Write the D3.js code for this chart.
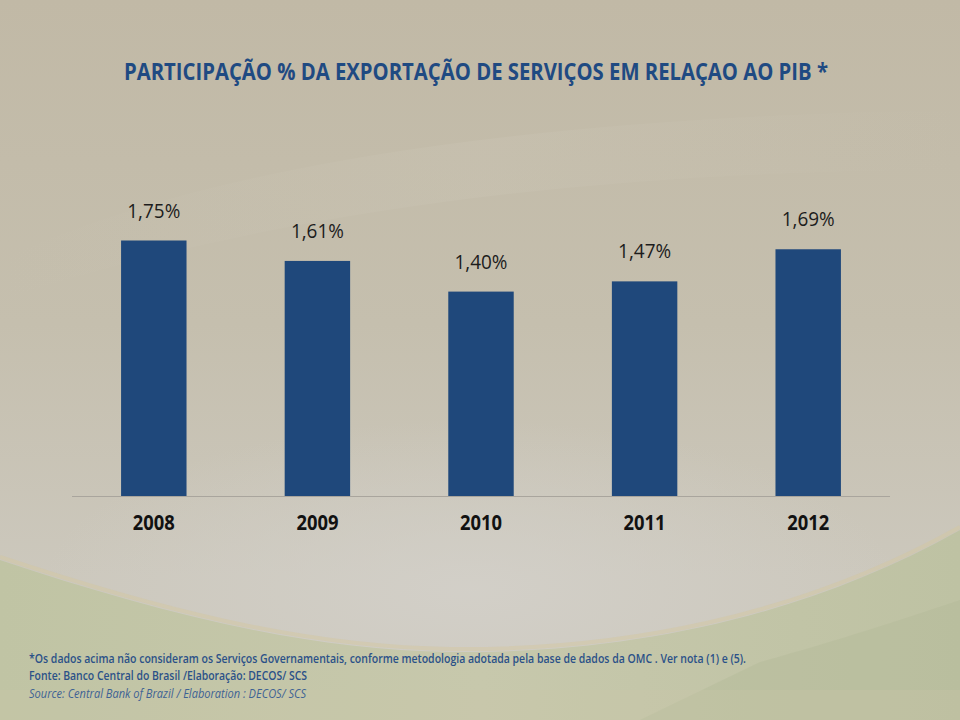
<!DOCTYPE html>
<html>
<head>
<meta charset="utf-8">
<script src="https://cdn.jsdelivr.net/npm/d3@7/dist/d3.min.js"></script>
<style>
html,body{margin:0;padding:0;background:#c4bcab;}
svg{display:block;}
</style>
</head>
<body>
<svg id="chart" width="960" height="720"></svg>
<script>
const years = ["2008", "2009", "2010", "2011", "2012"];
const values = [1.75, 1.61, 1.40, 1.47, 1.69];
const valueLabels = ["1,75%", "1,61%", "1,40%", "1,47%", "1,69%"];
const titleText = "PARTICIPAÇÃO % DA EXPORTAÇÃO DE SERVIÇOS EM RELAÇAO AO PIB *";
const notes = [
  "*Os dados acima não consideram os Serviços Governamentais, conforme metodologia adotada pela base de dados da OMC . Ver nota (1) e (5).",
  "Fonte: Banco Central do Brasil /Elaboração: DECOS/ SCS",
  "Source: Central Bank of Brazil / Elaboration : DECOS/ SCS"
];

const svg = d3.select("#chart");
const W = 960, H = 720;
const defs = svg.append("defs");
const FONT = "'Open Sans', 'Noto Sans', sans-serif";

// Background
const bg = defs.append("linearGradient").attr("id","bg").attr("x1",0).attr("y1",0).attr("x2",0).attr("y2",1);
bg.append("stop").attr("offset","0%").attr("stop-color","#c1b9a6");
bg.append("stop").attr("offset","45%").attr("stop-color","#c5bfae");
bg.append("stop").attr("offset","80%").attr("stop-color","#ccc8bd");
svg.append("rect").attr("width",W).attr("height",H).attr("fill","url(#bg)");

const glow = defs.append("radialGradient").attr("id","glow").attr("cx","50%").attr("cy","50%").attr("r","50%");
glow.append("stop").attr("offset","0%").attr("stop-color","#d3d0c9").attr("stop-opacity",0.9);
glow.append("stop").attr("offset","100%").attr("stop-color","#d3d0c9").attr("stop-opacity",0);
svg.append("ellipse").attr("cx",470).attr("cy",590).attr("rx",430).attr("ry",170).attr("fill","url(#glow)");

// faint diagonal highlight at top
const diag = defs.append("linearGradient").attr("id","diag").attr("x1",0).attr("y1",0).attr("x2",1).attr("y2",0);
diag.append("stop").attr("offset","0%").attr("stop-color","#cbc5b5").attr("stop-opacity",0);
diag.append("stop").attr("offset","50%").attr("stop-color","#cbc5b5").attr("stop-opacity",0.35);
diag.append("stop").attr("offset","100%").attr("stop-color","#cbc5b5").attr("stop-opacity",0);
svg.append("path").attr("d","M0,260 Q300,120 960,110 L960,170 Q400,170 0,300 Z").attr("fill","url(#diag)");

// bottom green swoosh
const green = defs.append("linearGradient").attr("id","green").attr("x1",0).attr("y1",0).attr("x2",1).attr("y2",0);
green.append("stop").attr("offset","0%").attr("stop-color","#c0c4a4");
green.append("stop").attr("offset","50%").attr("stop-color","#c7c8ac");
green.append("stop").attr("offset","100%").attr("stop-color","#bec2a3");
svg.append("path")
  .attr("d","M0,560 C150,610 300,650 450,652 C620,654 800,620 960,530 L960,720 L0,720 Z")
  .attr("fill","url(#green)");
svg.append("path")
  .attr("d","M0,557 C150,607 300,647 450,649 C620,651 800,617 960,527")
  .attr("fill","none").attr("stroke","#d4c8a2").attr("stroke-width",4).attr("opacity",0.5);
svg.append("path")
  .attr("d","M760,662 C840,640 900,620 960,600 L960,720 L640,720 Z")
  .attr("fill","#b4ba9a").attr("opacity",0.45);
svg.append("path")
  .attr("d","M0,690 L960,690 L960,720 L0,720 Z")
  .attr("fill","#cbc8a8").attr("opacity",0.3);

// Scales
const x = d3.scaleBand().domain(years).range([72, 890]).paddingInner(0.6).paddingOuter(0.3);
const y = d3.scaleLinear().domain([0, 2]).range([496, 204]);

// Bars
svg.append("g").selectAll("rect").data(values).join("rect")
  .attr("x",(d,i)=>x(years[i]))
  .attr("y",d=>y(d))
  .attr("width",x.bandwidth())
  .attr("height",d=>y(0)-y(d))
  .attr("fill","#1f487b");

// Axis baseline
const axis = svg.append("g").attr("transform",`translate(0,${y(0)})`)
  .call(d3.axisBottom(x).tickSize(0).tickPadding(0));
axis.select(".domain").attr("stroke","#a9a59d").attr("stroke-width",1).attr("d","M72,0.5H890");
axis.selectAll(".tick text")
  .attr("dy",null).attr("y",34)
  .attr("font-family",FONT)
  .attr("font-weight","bold").attr("font-size","21px").attr("fill","#111")
  .attr("text-anchor","middle")
  .attr("textLength",42).attr("lengthAdjust","spacingAndGlyphs");

// Value labels
svg.append("g").selectAll("text").data(values).join("text")
  .attr("x",(d,i)=>x(years[i]) + x.bandwidth()/2)
  .attr("y",d=>y(d) - 23)
  .attr("text-anchor","middle")
  .attr("font-family",FONT)
  .attr("font-size","20px").attr("fill","#1c1c1c")
  .attr("textLength",53).attr("lengthAdjust","spacingAndGlyphs")
  .text((d,i)=>valueLabels[i]);

// Title
svg.append("text").attr("x",124).attr("y",80)
  .attr("font-family",FONT)
  .attr("font-weight","bold").attr("font-size","24px").attr("fill","#1f4a82")
  .attr("textLength",704).attr("lengthAdjust","spacingAndGlyphs")
  .text(titleText);

// Notes
const noteY = [663, 680, 698];
const noteLen = [717, 278, 277];
notes.forEach((t,i)=>{
  svg.append("text").attr("x",29).attr("y",noteY[i])
    .attr("font-family",FONT)
    .attr("font-size","12.5px")
    .attr("font-weight", i<2 ? "600" : "normal")
    .attr("font-style", i===2 ? "italic" : "normal")
    .attr("fill", i===2 ? "#3e6294" : "#2b5188")
    .attr("textLength",noteLen[i]).attr("lengthAdjust","spacingAndGlyphs")
    .text(t);
});
</script>
</body>
</html>
